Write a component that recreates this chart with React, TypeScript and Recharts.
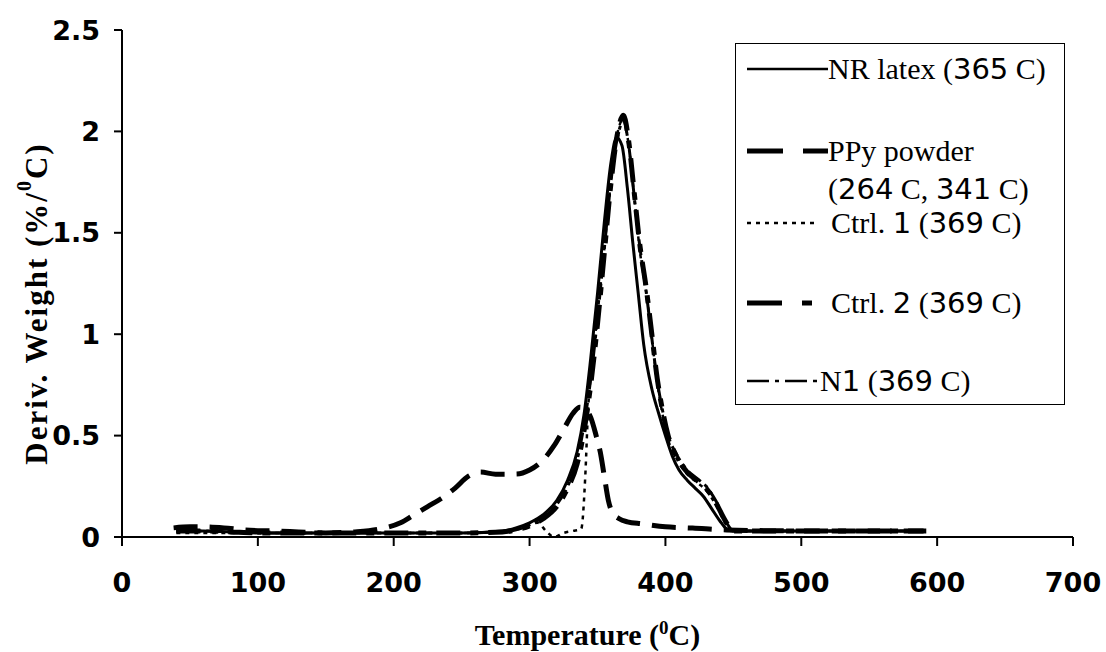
import React from "react";
import { LineChart, Line, XAxis, YAxis, Legend } from "recharts";

// axis ticks
const X_TICKS = [0, 100, 200, 300, 400, 500, 600, 700];
const Y_TICKS = [0, 0.5, 1, 1.5, 2, 2.5];

// NR latex
const NR_T = [40, 60, 80, 100, 150, 200, 250, 280, 290, 300, 310, 320, 328, 335, 340, 345, 350, 355, 360, 364, 368, 372, 376, 380, 384, 390, 395, 400, 405, 410, 416, 422, 428, 434, 440, 445, 450, 500, 550, 590];
const NR_V = [0.03, 0.03, 0.025, 0.02, 0.02, 0.02, 0.02, 0.03, 0.045, 0.07, 0.11, 0.18, 0.28, 0.42, 0.6, 0.88, 1.2, 1.55, 1.85, 1.97, 1.93, 1.72, 1.45, 1.2, 0.95, 0.73, 0.61, 0.5, 0.4, 0.33, 0.28, 0.24, 0.2, 0.14, 0.08, 0.04, 0.03, 0.03, 0.03, 0.03];

// PPy powder
const PPY_T = [38, 50, 60, 75, 90, 110, 130, 150, 170, 190, 205, 215, 225, 235, 245, 255, 264, 275, 290, 300, 310, 318, 325, 332, 337, 341, 345, 349, 352, 355, 358, 361, 366, 372, 383, 400, 420, 445, 500, 550, 592];
const PPY_V = [0.045, 0.05, 0.05, 0.045, 0.035, 0.03, 0.025, 0.02, 0.025, 0.04, 0.07, 0.11, 0.15, 0.19, 0.24, 0.3, 0.32, 0.31, 0.31, 0.33, 0.38, 0.45, 0.53, 0.61, 0.64, 0.63, 0.59, 0.5, 0.42, 0.3, 0.18, 0.12, 0.09, 0.075, 0.065, 0.05, 0.044, 0.035, 0.03, 0.03, 0.03];

// Ctrl. 1
const C1_T = [40, 60, 80, 100, 150, 200, 250, 280, 290, 300, 306, 312, 318, 325, 332, 338, 341, 343, 346, 350, 355, 360, 365, 369, 373, 377, 381, 386, 390, 394, 398, 402, 408, 416, 423, 430, 437, 445, 450, 500, 550, 590];
const C1_V = [0.02, 0.02, 0.02, 0.02, 0.02, 0.02, 0.02, 0.025, 0.035, 0.06, 0.07, 0.03, 0.0, 0.02, 0.03, 0.04, 0.3, 0.62, 0.85, 1.1, 1.42, 1.76, 2.0, 2.06, 1.93, 1.68, 1.42, 1.2, 0.98, 0.76, 0.6, 0.48, 0.39, 0.31, 0.27, 0.23, 0.16, 0.06, 0.03, 0.03, 0.03, 0.03];

// Ctrl. 2
const C2_T = [40, 60, 80, 100, 150, 200, 250, 280, 290, 300, 310, 320, 328, 335, 340, 345, 350, 355, 360, 365, 369, 373, 377, 381, 386, 390, 394, 398, 402, 408, 416, 423, 430, 437, 445, 450, 500, 550, 590];
const C2_V = [0.03, 0.03, 0.025, 0.02, 0.02, 0.02, 0.02, 0.025, 0.035, 0.055, 0.09, 0.15, 0.24, 0.36, 0.52, 0.75, 1.05, 1.4, 1.75, 2.0, 2.08, 1.95, 1.7, 1.45, 1.22, 1.0, 0.78, 0.62, 0.5, 0.4, 0.32, 0.28, 0.24, 0.17, 0.07, 0.03, 0.03, 0.03, 0.03];

// N1
const N1_T = [40, 60, 80, 100, 150, 200, 250, 280, 290, 300, 310, 320, 328, 335, 340, 345, 350, 355, 360, 365, 369, 373, 377, 381, 386, 390, 394, 398, 402, 408, 416, 423, 430, 437, 445, 450, 500, 550, 590];
const N1_V = [0.03, 0.03, 0.025, 0.02, 0.02, 0.02, 0.02, 0.025, 0.035, 0.06, 0.1, 0.16, 0.25, 0.38, 0.55, 0.78, 1.08, 1.42, 1.76, 1.98, 2.05, 1.93, 1.68, 1.44, 1.2, 0.98, 0.77, 0.62, 0.5, 0.41, 0.33, 0.29, 0.25, 0.18, 0.07, 0.03, 0.03, 0.03, 0.03];

const LEGEND_LINES = [
  ["NR latex (365 C)"],
  ["PPy powder", "(264 C, 341 C)"],
  ["Ctrl. 1 (369 C)"],
  ["Ctrl. 2 (369 C)"],
  ["N1 (369 C)"],
];

const toPoints = (t: number[], v: number[]) => t.map((x, i) => ({ t: x, v: v[i] }));

const nrData = toPoints(NR_T, NR_V);
const ppyData = toPoints(PPY_T, PPY_V);
const c1Data = toPoints(C1_T, C1_V);
const c2Data = toPoints(C2_T, C2_V);
const n1Data = toPoints(N1_T, N1_V);

const SERIF = "'Liberation Serif', 'Times New Roman', serif";
const SANS = "'DejaVu Sans', Verdana, sans-serif";

// digits in the legend are set in a sans face, like the original
function mixed(s: string) {
  return s.split(/(\d+)/).map((p, i) =>
    /\d/.test(p) ? (
      <span key={i} style={{ fontFamily: SANS, fontSize: 29 }}>{p}</span>
    ) : (
      <span key={i}>{p}</span>
    )
  );
}

const sampleStyles = [
  { dash: undefined, w: 2.5, x2: 92 },
  { dash: "36 20", w: 5, x2: 92 },
  { dash: "4 5", w: 2.5, x2: 82 },
  { dash: "35 20 10 20", w: 5, x2: 77 },
  { dash: "22 6 4 6", w: 2.5, x2: 82 },
];
const rowY = [25, 107, 179, 259, 337];
const textX = [92, 92, 95, 95, 84];

function LegendBox() {
  return (
    <div
      style={{
        position: "relative",
        width: 330,
        height: 362,
        border: "1.5px solid #000",
        boxSizing: "border-box",
        background: "#fff",
        fontFamily: SERIF,
        fontSize: 30,
        color: "#000",
      }}
    >
      {LEGEND_LINES.map((lines, i) => (
        <React.Fragment key={i}>
          <svg
            width={100}
            height={10}
            style={{ position: "absolute", left: 0, top: rowY[i] - 5 }}
          >
            <line
              x1={11}
              x2={sampleStyles[i].x2}
              y1={5}
              y2={5}
              stroke="#000"
              strokeWidth={sampleStyles[i].w}
              strokeDasharray={sampleStyles[i].dash}
            />
          </svg>
          {lines.map((ln, j) => (
            <div
              key={j}
              style={{
                position: "absolute",
                left: textX[i],
                top: rowY[i] + j * 38 - 18,
                whiteSpace: "nowrap",
                lineHeight: "36px",
              }}
            >
              {mixed(ln)}
            </div>
          ))}
        </React.Fragment>
      ))}
    </div>
  );
}

function XTitle(props: any) {
  const { x, y, width } = props.viewBox;
  return (
    <text x={x + width / 2 - 10} y={y + 108} textAnchor="middle" fontFamily={SERIF} fontWeight="bold" fontSize={30} fill="#000">
      Temperature (
      <tspan fontSize={19} dy={-11}>0</tspan>
      <tspan dy={11}>C)</tspan>
    </text>
  );
}

function YTitle(props: any) {
  const { y, height } = props.viewBox;
  const cx = 36;
  const cy = y + height / 2 + 20;
  return (
    <text
      x={cx}
      y={cy}
      transform={`rotate(-90 ${cx} ${cy})`}
      textAnchor="middle"
      dominantBaseline="central"
      fontFamily={SERIF}
      fontWeight="bold"
      fontSize={31}
      letterSpacing={2}
      fill="#000"
    >
      Deriv. Weight (%/
      <tspan fontSize={20} dy={-12}>0</tspan>
      <tspan dy={12}>C)</tspan>
    </text>
  );
}

const tickStyle = { fontFamily: SANS, fontSize: 27, fontWeight: "bold", fill: "#000" };

export default function App() {
  return (
    <div style={{ position: "absolute", left: 0, top: 0, width: 1106, height: 652, background: "#fff" }}>
      <LineChart width={1106} height={652} margin={{ top: 30, right: 33, bottom: 0, left: 0 }}>
        <XAxis
          dataKey="t"
          type="number"
          domain={[0, 700]}
          ticks={X_TICKS}
          allowDataOverflow
          stroke="#000"
          strokeWidth={2}
          tickSize={9}
          tickMargin={27}
          height={115}
          tick={tickStyle}
          label={{ content: (p: any) => <XTitle {...p} /> }}
        />
        <XAxis xAxisId="top" dataKey="t" type="number" orientation="top" domain={[0, 700]} height={0} tick={false} tickLine={false} stroke="#000" strokeWidth={2} />
        <YAxis
          type="number"
          domain={[0, 2.5]}
          ticks={Y_TICKS}
          allowDataOverflow
          stroke="#000"
          strokeWidth={2}
          tickSize={8}
          tickMargin={14}
          width={122}
          tick={tickStyle}
          label={{ content: (p: any) => <YTitle {...p} /> }}
        />
        <YAxis yAxisId="right" orientation="right" domain={[0, 2.5]} width={0} tick={false} tickLine={false} stroke="#000" strokeWidth={2} />
        <Legend
          layout="vertical"
          align="center"
          verticalAlign="middle"
          wrapperStyle={{ left: 735, top: 43, width: 330 }}
          content={() => <LegendBox />}
        />
        <Line data={ppyData} dataKey="v" name="PPy powder" type="monotone" stroke="#000" strokeWidth={5} strokeDasharray="24 12" dot={false} isAnimationActive={false} />
        <Line data={c2Data} dataKey="v" name="Ctrl. 2" type="monotone" stroke="#000" strokeWidth={5} strokeDasharray="24 10 8 10" dot={false} isAnimationActive={false} />
        <Line data={n1Data} dataKey="v" name="N1" type="monotone" stroke="#000" strokeWidth={3} strokeDasharray="16 5 4 5" dot={false} isAnimationActive={false} />
        <Line data={c1Data} dataKey="v" name="Ctrl. 1" type="monotone" stroke="#000" strokeWidth={2.5} strokeDasharray="4 5" dot={false} isAnimationActive={false} />
        <Line data={nrData} dataKey="v" name="NR latex" type="monotone" stroke="#000" strokeWidth={3} dot={false} isAnimationActive={false} />
      </LineChart>
    </div>
  );
}
